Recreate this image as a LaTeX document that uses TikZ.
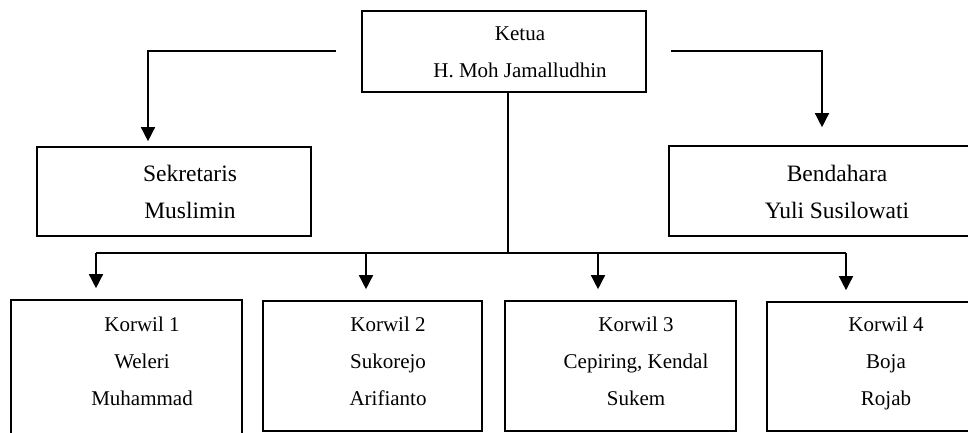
\documentclass[tikz,border=0pt]{standalone}
\usepackage{fontspec}
\setmainfont{Liberation Serif}
\usetikzlibrary{arrows.meta,calc}
\tikzset{
    box/.style = {
        draw,
        line width=1.6pt,
        inner sep=0pt,
        },
    label big/.style = {
        align=center,
        inner sep=0pt,
        font=\fontsize{23.5}{37}\selectfont,
        },
    label small/.style = {
        align=center,
        inner sep=0pt,
        font=\fontsize{21}{37}\selectfont,
        },
    link/.style = {
        draw,
        line width=1.4pt,
        },
    down/.style = {
        link,
        -{Triangle[width=14pt,length=14pt]},
        },
}
\begin{document}
\begin{tikzpicture}[x=1pt,y=-1pt]
            \useasboundingbox (0,0) rectangle (968,433);
            \clip (0,0) rectangle (968,433);

            % boxes
            \node[box, minimum width=284pt, minimum height=81pt] (ketua) at (504,51.5) {};
            \node[box, minimum width=274pt, minimum height=89pt] (sek) at (174,191.5) {};
            \node[box, minimum width=306pt, minimum height=90pt] (bend) at (822,191) {};
            \node[box, minimum width=231pt, minimum height=138pt] (k1) at (126.5,369) {};
            \node[box, minimum width=219pt, minimum height=130pt] (k2) at (372.5,366) {};
            \node[box, minimum width=231pt, minimum height=130pt] (k3) at (620.5,366) {};
            \node[box, minimum width=208pt, minimum height=129pt] (k4) at (871,366.5) {};

            % texts (anchored at the baseline of the last line)
            \node[label small, anchor=base] (ketuaT) at (520,78) {Ketua\\H. Moh Jamalludhin};
            \node[label big, anchor=base] (sekT) at (190,218) {Sekretaris\\Muslimin};
            \node[label big, anchor=base] (bendT) at (837,218) {Bendahara\\Yuli Susilowati};
            \node[label small, anchor=base] (k1T) at (142,405) {Korwil 1\\Weleri\\Muhammad};
            \node[label small, anchor=base] (k2T) at (388,405) {Korwil 2\\Sukorejo\\Arifianto};
            \node[label small, anchor=base] (k3T) at (636,405) {Korwil 3\\Cepiring, Kendal\\Sukem};
            \node[label small, anchor=base] (k4T) at (886,405) {Korwil 4\\Boja\\Rojab};

            % connectors
            \coordinate (sekL) at (336,51);
            \coordinate (bendL) at (671,51);
            \coordinate (bus) at (508,253);
            \coordinate (b1) at (96,253);
            \coordinate (b2) at (366,253);
            \coordinate (b3) at (598,253);
            \coordinate (b4) at (846,253);

            \draw[down, shorten >=5pt] (sekL) -| ([xshift=-26pt]sek.north);
            \draw[down, shorten >=18pt] (bendL) -| (bend.north);
            \draw[link] (bus |- ketua.south) -- (bus);
            \draw[link] (b1) -- (b4);
            \foreach \i in {1,...,4}
                \path (b\i) edge[down, shorten >=11pt] (b\i |- k\i.north);
        \end{tikzpicture}
\end{document}
